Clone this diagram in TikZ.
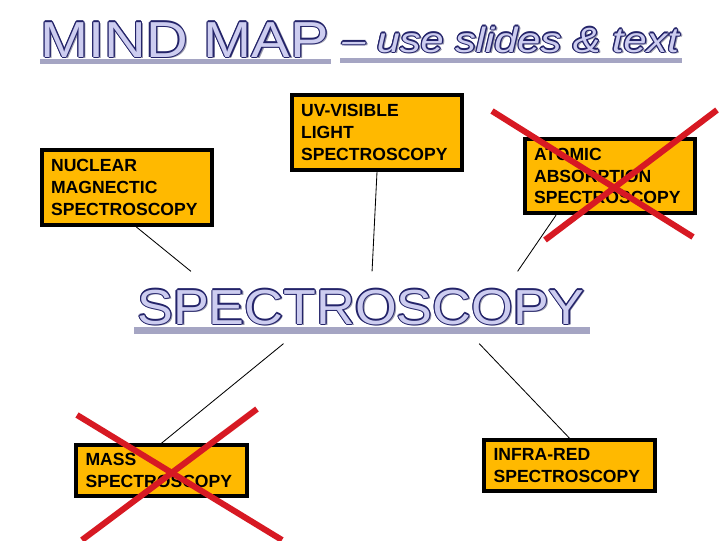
\documentclass[tikz,border=0pt]{standalone}
\usepackage{fontspec}
\setmainfont{Liberation Sans}
\usepackage{graphicx}
\usetikzlibrary{positioning}

\definecolor{boxgold}{RGB}{255,185,0}
\definecolor{crossred}{RGB}{215,25,35}
\definecolor{artfill}{RGB}{205,205,240}
\definecolor{artline}{RGB}{35,35,105}
\definecolor{artshadow}{RGB}{150,150,170}
\definecolor{artbar}{RGB}{165,165,195}

% outlined word-art text: shadow, outline copies, then fill
\newcommand\artcopy[3]{\makebox[0pt][l]{\hspace*{#1}\raisebox{#2}{#3}}}
\newcommand\wordart[2]{\scalebox{#1}[1]{%
  \artcopy{1.4pt}{-1.4pt}{\color{artshadow}#2}%
  \artcopy{0.8pt}{0pt}{\color{artline}#2}%
  \artcopy{-0.8pt}{0pt}{\color{artline}#2}%
  \artcopy{0pt}{0.8pt}{\color{artline}#2}%
  \artcopy{0pt}{-0.8pt}{\color{artline}#2}%
  \artcopy{0.57pt}{0.57pt}{\color{artline}#2}%
  \artcopy{-0.57pt}{0.57pt}{\color{artline}#2}%
  \artcopy{0.57pt}{-0.57pt}{\color{artline}#2}%
  \artcopy{-0.57pt}{-0.57pt}{\color{artline}#2}%
  {\color{artfill}#2}}}

\begin{document}
\begin{tikzpicture}[
    x=0.025cm, y=-0.025cm,
    method/.style={rectangle, draw=black, line width=2.8pt, fill=boxgold, minimum width=121pt, text width=108pt, inner xsep=6.5pt, align=left, font=\fontsize{12.5}{15.5}\selectfont\bfseries},
    threeline/.style={minimum height=53pt},
    twoline/.style={minimum height=36pt},
    link/.style={line width=0.6pt},
    crossout/.style={crossred, line width=4.3pt},
    underbar/.style={fill=artbar}
]

    \fill[white] (0,0) rectangle (720,540);
    \useasboundingbox (0,0) rectangle (720,540);

    % Title
    \fill[underbar] (40,58.5) rectangle (331,63.5);
    \fill[underbar] (340,58) rectangle (682,63);
    \node[anchor=base west, inner sep=0pt, font=\fontsize{36}{36}\selectfont] (title) at (40,57) {\wordart{1.14}{MIND MAP}};
    \node[anchor=base west, inner sep=0pt, font=\fontsize{25}{25}\selectfont\itshape] (subtitle) at (342,52) {\wordart{1.18}{– use slides \& text}};

    % Centre word
    \fill[underbar] (134,327) rectangle (590,334);
    \node[inner sep=0pt, minimum width=341pt, minimum height=51pt, font=\fontsize{35}{35}\selectfont] (hub) at (361,307.5) {\wordart{1.09}{SPECTROSCOPY}};

    % Methods
    \node[method, threeline] (nmr) at (127,187.5) {NUCLEAR\\MAGNECTIC\\SPECTROSCOPY};
    \node[method, threeline] (uvvis) at (377,132.5) {UV-VISIBLE\\LIGHT\\SPECTROSCOPY};
    \node[method, threeline] (aas) at (610,176) {ATOMIC\\ABSORPTION\\SPECTROSCOPY};
    \node[method, twoline] (mass) at (161.5,470.5) {MASS\\SPECTROSCOPY};
    \node[method, twoline] (ir) at (569.5,465.5) {INFRA-RED\\SPECTROSCOPY};

    % Links
    \draw[link] (nmr.283) -- (hub.168);
    \draw[link] (uvvis.south) -- (hub.73);
    \draw[link] (aas.216) -- (hub.13);
    \draw[link] (mass.north) -- (hub.205);
    \draw[link] (ir.north) -- (hub.343);

    % Crossed out
    \draw[crossout] (492,111) -- (693,237);
    \draw[crossout] (717,110) -- (545,240);
    \draw[crossout] (77,415) -- (282,540);
    \draw[crossout] (257,409) -- (82,540);

\end{tikzpicture}
\end{document}
